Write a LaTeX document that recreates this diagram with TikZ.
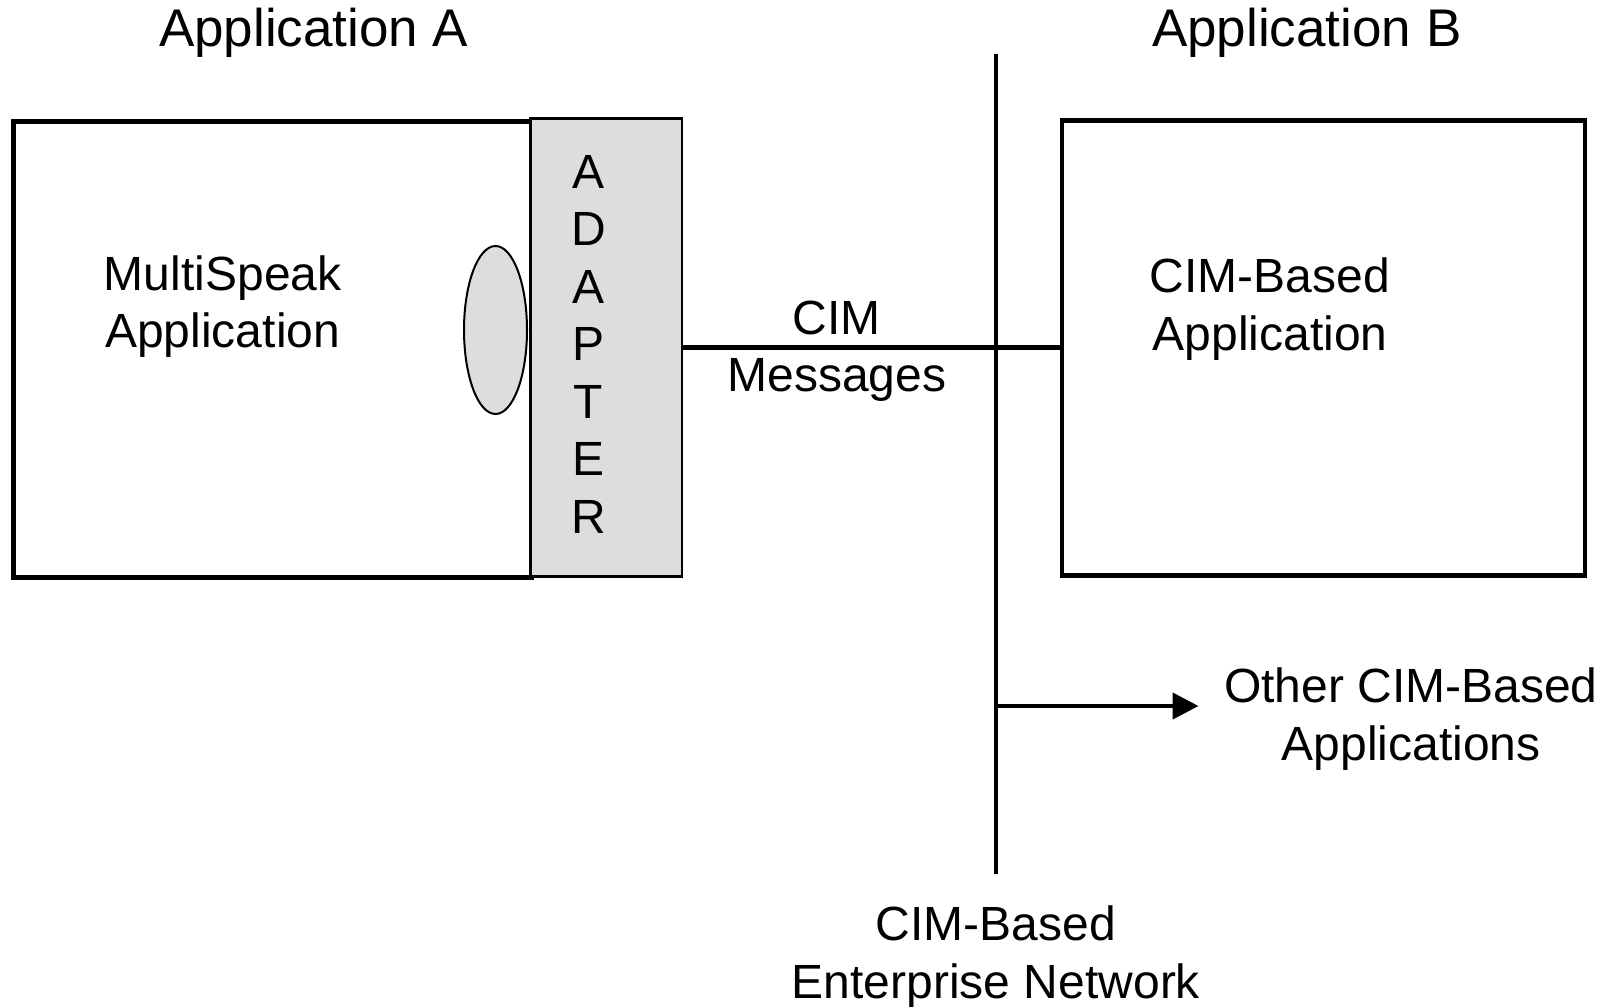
\documentclass[tikz,border=0pt]{standalone}
\usepackage{fontspec}
\setmainfont{Liberation Sans}
\usepackage{tikz}
\usetikzlibrary{arrows.meta, positioning, calc, shapes}
\definecolor{adaptgray}{RGB}{221,221,221}

\begin{document}
\begin{tikzpicture}[
    x=1pt, y=-1pt,
    lbl/.style={align=center, inner sep=0pt, font=\fontsize{48}{57.5}\selectfont},
    title/.style={inner sep=0pt, font=\fontsize{53}{60}\selectfont},
    appbox/.style={rectangle, draw, line width=4.5pt, anchor=north west, inner sep=0pt},
    adapterbox/.style={rectangle, draw, line width=2.5pt, fill=adaptgray, anchor=north west, inner sep=0pt, minimum width=151.5pt, minimum height=457.5pt},
    plug/.style={ellipse, draw, line width=2pt, fill=adaptgray, inner sep=0pt, minimum width=63pt, minimum height=168pt},
    wire/.style={line width=4.5pt}
]
\useasboundingbox (0,0) rectangle (1602,1006);

% Application A
\node[appbox, minimum width=518pt, minimum height=455.5pt] (appA) at (11,119.5) {};
\node[title] (titleA) at (313.7,33) {Application A};
\node[lbl] (msApp) at (222.7,306.5) {MultiSpeak\\Application};

% Adapter
\node[adapterbox] (adapter) at (529,117.5) {};
\node[plug] (plugA) at (495.5,330) {};
\node[lbl] (adapterTxt) at (588.5,344) {A\\D\\A\\P\\T\\E\\R};

% Application B
\node[appbox, minimum width=523pt, minimum height=454.5pt] (appB) at (1059.5,118.5) {};
\node[title] (titleB) at (1306.8,33) {Application B};
\node[lbl] (cimApp) at (1270,309) {CIM-Based\\Application};

% Enterprise bus
\coordinate (busTop) at (996,54);
\coordinate (busBot) at (996,873.5);
\draw[wire] (busTop) -- (busBot);
\node[lbl] (busLbl) at (996,957) {CIM-Based\\Enterprise Network};

% CIM messages
\draw[wire] (adapter.east) -- (appB.west |- adapter.east);
\node[lbl] (msgLbl) at (836.8,351) {CIM\\Messages};

% Other applications
\coordinate (otherEnd) at (1198.5,706);
\draw[wire, -{Triangle[length=26pt, width=26pt]}] (busTop |- otherEnd) -- (otherEnd);
\node[lbl] (otherLbl) at (1411,719) {Other CIM-Based\\Applications};

\end{tikzpicture}
\end{document}
